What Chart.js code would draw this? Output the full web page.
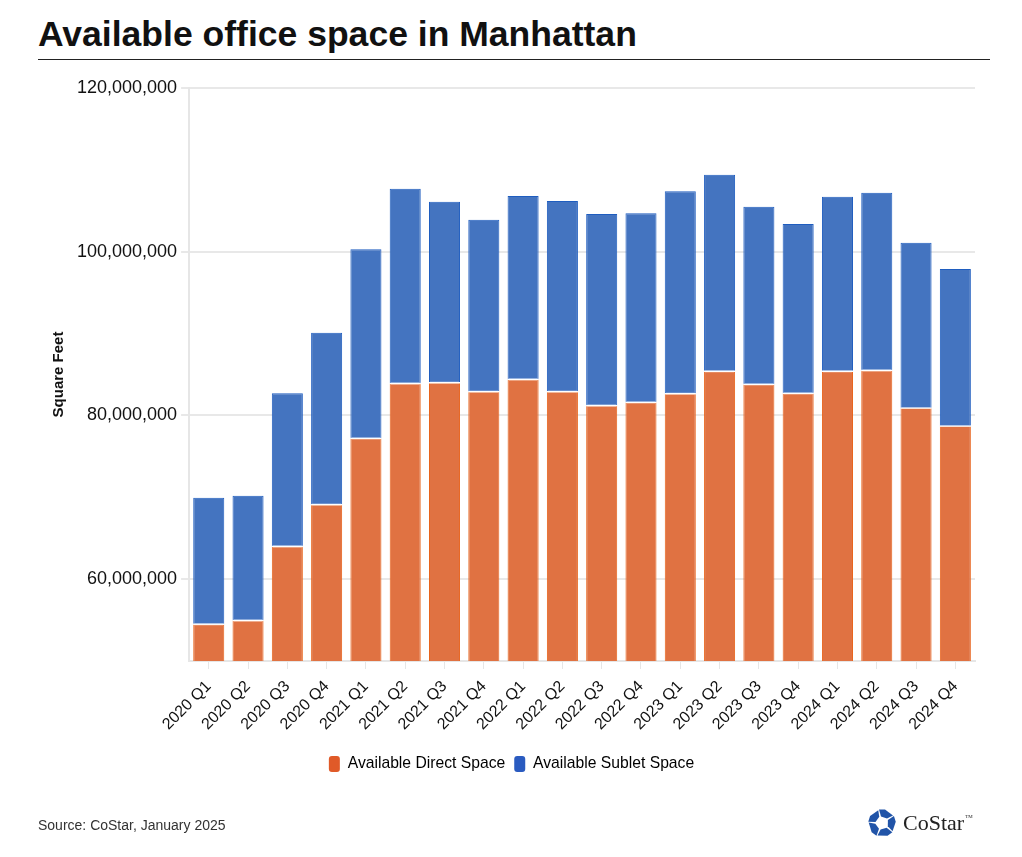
<!DOCTYPE html>
<html>
<head>
<meta charset="utf-8">
<script src="https://cdn.jsdelivr.net/npm/chart.js@4.4.1/dist/chart.umd.min.js"></script>
<style>
  html, body { margin: 0; padding: 0; background: #fff; }
  body { width: 1022px; height: 857px; position: relative; overflow: hidden; font-family: "Liberation Sans", Arial, sans-serif; }
  #title { position: absolute; left: 38px; top: 16px; font-size: 35px; line-height: 1; font-weight: bold; color: #111; white-space: nowrap; transform: scaleX(1.015); transform-origin: left top; }
  #rule { position: absolute; left: 38px; top: 59px; width: 952px; height: 1px; background: #222; }
  #wrap { position: absolute; left: 0; top: 0; width: 1022px; height: 857px; }
  #source { position: absolute; left: 38px; top: 817px; font-size: 14px; color: #333; }
  #logo { position: absolute; left: 868px; top: 809px; display: flex; align-items: center; }
  #logo span { font-family: "Liberation Serif", serif; font-size: 22px; color: #222; margin-left: 7px; }
  #logo sup { font-size: 5px; vertical-align: 12px; margin-left: 1px; }
</style>
</head>
<body>
<div id="title">Available office space in Manhattan</div>
<div id="rule"></div>
<div id="wrap"><canvas id="chart" width="1022" height="857"></canvas></div>
<div id="source">Source: CoStar, January 2025</div>
<div id="logo">
  <svg width="28" height="28" viewBox="-14 -14 28 28">
    <g fill="#2154a8">
      <polygon points="-3,-13.5 3,-13.5 11,-7.5 5,-4.5 -1,-6.5"/>
      <polygon points="-3,-13.5 3,-13.5 11,-7.5 5,-4.5 -1,-6.5" transform="rotate(72)"/>
      <polygon points="-3,-13.5 3,-13.5 11,-7.5 5,-4.5 -1,-6.5" transform="rotate(144)"/>
      <polygon points="-3,-13.5 3,-13.5 11,-7.5 5,-4.5 -1,-6.5" transform="rotate(216)"/>
      <polygon points="-3,-13.5 3,-13.5 11,-7.5 5,-4.5 -1,-6.5" transform="rotate(288)"/>
    </g>
  </svg>
  <span>CoStar<sup>TM</sup></span>
</div>
<script>
const quarters = ['2020 Q1', '2020 Q2', '2020 Q3', '2020 Q4', '2021 Q1', '2021 Q2', '2021 Q3', '2021 Q4',
  '2022 Q1', '2022 Q2', '2022 Q3', '2022 Q4', '2023 Q1', '2023 Q2', '2023 Q3', '2023 Q4',
  '2024 Q1', '2024 Q2', '2024 Q3', '2024 Q4']

const directSpace = [54500000, 54950000, 64000000, 69100000, 77200000, 83900000, 84000000, 82900000,
  84400000, 82900000, 81200000, 81600000, 82650000, 85400000, 83800000, 82700000,
  85400000, 85500000, 80900000, 78700000]

const subletSpace = [15440000, 15250000, 18700000, 21000000, 23100000, 23800000, 22100000, 21000000,
  22400000, 23300000, 23400000, 23100000, 24750000, 24000000, 21700000, 20700000,
  21300000, 21700000, 20200000, 19200000]

const yTicks = [60000000, 80000000, 100000000, 120000000]

// thin white gap where the two stacked segments meet
const stackGap = {
    id: 'stackGap',
    afterDatasetsDraw(chart) {
        const c = chart.ctx
        c.save()
        c.strokeStyle = '#fff'
        c.lineWidth = 1.5
        chart.getDatasetMeta(0).data.forEach(bar => {
            c.beginPath()
            c.moveTo(bar.x - bar.width / 2, bar.y)
            c.lineTo(bar.x + bar.width / 2, bar.y)
            c.stroke()
        })
        c.restore()
    }
}

const ctx = document.querySelector('#chart')

const myChart = new Chart(ctx, {
    type: 'bar',
    data: {
        labels: quarters,
        datasets: [
            {
                label: 'Available Direct Space',
                data: directSpace,
                backgroundColor: '#e07242',
                borderColor: '#e8641c',
                borderWidth: 1,
                borderSkipped: false,
                legendColor: '#e05a28'
            },
            {
                label: 'Available Sublet Space',
                data: subletSpace,
                backgroundColor: '#4474c0',
                borderColor: '#1f5dbf',
                borderWidth: 1,
                borderSkipped: false,
                legendColor: '#2a5bc0'
            }
        ]
    },
    plugins: [stackGap],
    options: {
        responsive: false,
        animation: false,
        devicePixelRatio: 1,
        layout: { padding: { left: 48, right: 47, top: 88, bottom: 75 } },
        datasets: { bar: { barPercentage: 0.79, categoryPercentage: 1 } },
        plugins: {
            tooltip: { enabled: false },
            legend: {
                position: 'bottom',
                labels: {
                    color: '#333',
                    font: { family: 'Liberation Sans', size: 15.7 },
                    boxWidth: 11,
                    boxHeight: 16,
                    borderRadius: 3,
                    padding: 9,
                    generateLabels: (chart) => chart.data.datasets.map((ds, i) => ({
                        text: ds.label,
                        fillStyle: ds.legendColor,
                        strokeStyle: ds.legendColor,
                        lineWidth: 0,
                        borderRadius: 3,
                        datasetIndex: i
                    }))
                }
            }
        },
        scales: {
            x: {
                stacked: true,
                afterFit: (scale) => { scale.height += 5 },
                border: { color: '#e6e6e6', width: 2 },
                grid: { drawOnChartArea: false, offset: false, color: '#e6e6e6', tickLength: 8 },
                ticks: {
                    color: '#111',
                    font: { family: 'Liberation Sans', size: 16 },
                    minRotation: 45,
                    maxRotation: 45,
                    padding: 8
                }
            },
            y: {
                stacked: true,
                min: 50000000,
                max: 120000000,
                afterBuildTicks: (scale) => { scale.ticks = yTicks.map(v => ({ value: v })) },
                border: { color: '#e6e6e6', width: 2 },
                grid: { color: '#e8e8e8', lineWidth: 2, tickLength: 8 },
                ticks: {
                    color: '#111',
                    font: { family: 'Liberation Sans', size: 18 },
                    padding: 4,
                    callback: (v) => Number(v).toLocaleString('en-US')
                },
                title: {
                    display: true,
                    text: 'Square Feet',
                    color: '#111',
                    font: { family: 'Liberation Sans', size: 15, weight: 'bold' },
                    padding: { top: 2, bottom: 5 }
                }
            }
        }
    }
})
</script>
</body>
</html>
